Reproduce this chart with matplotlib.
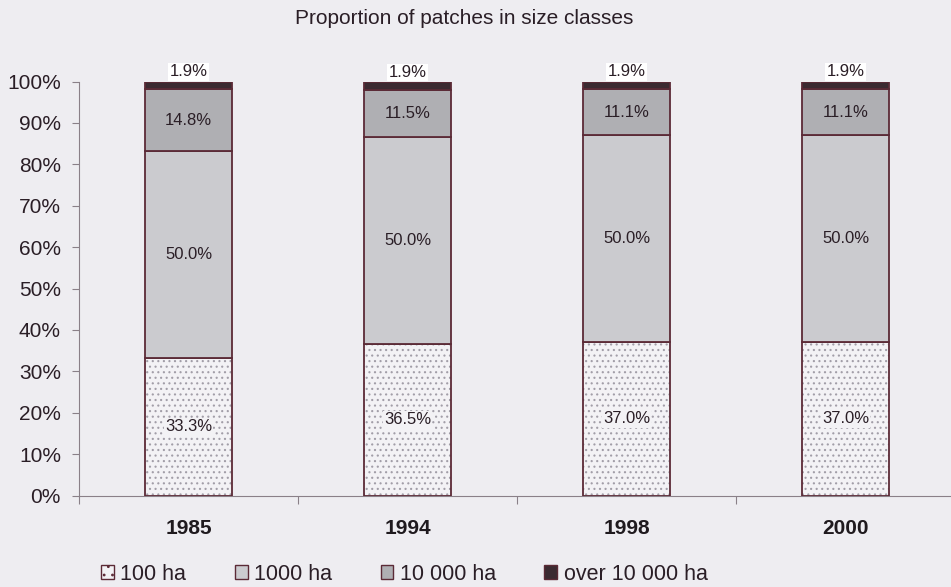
import matplotlib
matplotlib.use("Agg")
import matplotlib.pyplot as plt
import numpy as np
from matplotlib.patches import Patch

plt.rcParams['font.family'] = ['Liberation Sans', 'DejaVu Sans']
plt.rcParams['hatch.linewidth'] = 0.8

years = ['1985', '1994', '1998', '2000']
ha100 = [33.3, 36.5, 37.0, 37.0]
ha1000 = [50.0, 50.0, 50.0, 50.0]
ha10000 = [14.8, 11.5, 11.1, 11.1]
over10000 = [1.9, 1.9, 1.9, 1.9]
series_names = ['100 ha', '1000 ha', '10 000 ha', 'over 10 000 ha']
yticks = [0, 10, 20, 30, 40, 50, 60, 70, 80, 90, 100]
title = 'Proportion of patches in size classes'

bg = '#eeedf1'
edge = '#5b2a36'
dotc = '#a29ea8'
fills = ['#f3f2f5', '#cbcbcf', '#afafb3', '#3b2a31']
txtc = '#2a1e26'

fig = plt.figure(figsize=(9.51, 5.87), dpi=100, facecolor=bg)
ax = fig.add_axes([79/951, 1-495.5/587, 1-79/951, 414/587])
ax.set_facecolor(bg)

x = np.arange(len(years))
w = 0.4
bottom = np.zeros(len(years))
data = [ha100, ha1000, ha10000, over10000]
for i, vals in enumerate(data):
    vals = np.array(vals)
    if i == 0:
        ax.bar(x, vals, w, bottom=bottom, facecolor=fills[0], edgecolor=dotc,
               hatch='...', linewidth=0, zorder=2)
        ax.bar(x, vals, w, bottom=bottom, facecolor='none', edgecolor=edge,
               linewidth=1.3, zorder=3)
    else:
        ax.bar(x, vals, w, bottom=bottom, facecolor=fills[i], edgecolor=edge,
               linewidth=1.3, zorder=3)
    for xi, b, v in zip(x, bottom, vals):
        if i == 0:
            ax.text(xi, b + v/2, f'{v:.1f}%', ha='center', va='center',
                    fontsize=12, color=txtc, zorder=5,
                    bbox=dict(facecolor=fills[0], edgecolor='none', pad=0.8))
        elif i < 3:
            ax.text(xi, b + v/2, f'{v:.1f}%', ha='center', va='center',
                    fontsize=12, color=txtc, zorder=5)
        else:
            ax.text(xi, b + v + 2.3, f'{v:.1f}%', ha='center', va='center',
                    fontsize=12, color=txtc, zorder=5,
                    bbox=dict(facecolor='white', edgecolor='none', pad=1.0))
    bottom = bottom + vals

ax.set_ylim(0, 100)
ax.set_xlim(-0.5, 3.5 - 4/219)
ax.set_yticks(yticks)
ax.set_yticklabels([f'{t}%' for t in yticks], fontsize=15, color=txtc)
ax.set_xticks([-0.5, 0.5, 1.5, 2.5])
ax.set_xticklabels([])
ax.set_xticks(x, minor=True)
ax.set_xticklabels(years, minor=True, fontsize=15, fontweight='bold', color='#1f1a1e')
ax.tick_params(axis='x', which='minor', length=0, pad=17)
ax.tick_params(axis='x', which='major', length=6, color='#8a8088', direction='out')
ax.tick_params(axis='y', length=5, color='#8a8088', pad=8)
for s in ['top', 'right']:
    ax.spines[s].set_visible(False)
ax.spines['left'].set_color('#8a8088')
ax.spines['bottom'].set_color('#8a8088')

fig.text(464/951, 1-18/587, title, ha='center', va='center', fontsize=15, color=txtc)

handles = [
    Patch(facecolor=fills[0], edgecolor=edge, hatch='..', linewidth=1),
    Patch(facecolor=fills[1], edgecolor=edge, linewidth=1),
    Patch(facecolor=fills[2], edgecolor=edge, linewidth=1),
    Patch(facecolor=fills[3], edgecolor=edge, linewidth=1),
]
leg = fig.legend(handles, series_names, loc='center left', bbox_to_anchor=(101/951, 1-574/587),
                 ncol=4, frameon=False, fontsize=15.5, handlelength=0.6, handleheight=0.6,
                 handletextpad=0.3, columnspacing=2.25, borderaxespad=0, borderpad=0,
                 labelcolor=txtc)

fig.savefig('out.png', dpi=100, facecolor=bg)
